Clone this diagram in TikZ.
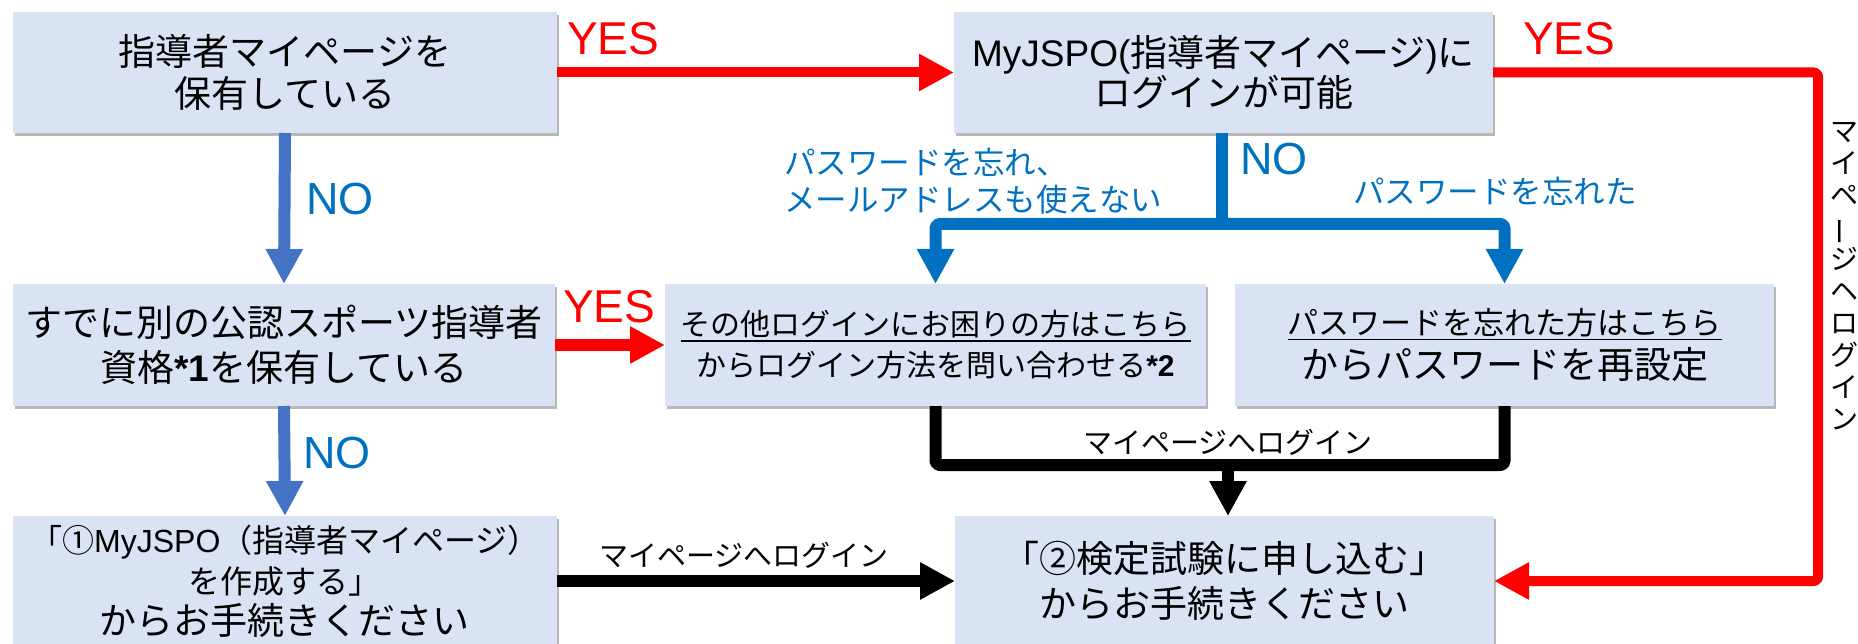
\documentclass[tikz,border=0pt]{standalone}
\usepackage{fontspec}
\setmainfont{Noto Sans CJK JP}
\newfontfamily\lat{Liberation Sans}
\usetikzlibrary{arrows.meta,shadows}
\definecolor{boxfill}{RGB}{218,227,243}
\definecolor{pured}{RGB}{255,0,0}
\definecolor{blueA}{RGB}{68,114,196}
\definecolor{blueB}{RGB}{0,112,192}
\newcommand\ulx[1]{\setbox0\hbox{#1}\rlap{\rule[-6pt]{\wd0}{1.6pt}}\box0}
\newcommand\fs[2]{\fontsize{#1}{#2}\selectfont}
\begin{document}
\begin{tikzpicture}[x=1pt,y=-1pt,
  box/.style={fill=boxfill, align=center, inner sep=0pt, outer sep=0pt,
    drop shadow={shadow xshift=2pt, shadow yshift=-3pt, opacity=0.28, fill=black}},
  arr/.style={-{Triangle[length=35pt,width=35pt]}},
  redln/.style={draw=pured, line width=10pt, line join=round},
  blueAln/.style={draw=blueA, line width=12pt},
  blueBln/.style={draw=blueB, line width=12pt, line join=round},
  blkln/.style={draw=black, line width=12pt, line join=round},
  yesl/.style={text=pured, font=\lat\fs{46}{50}, inner sep=0pt, anchor=base west},
  nol/.style={text=blueB, font=\lat\fs{45}{50}, inner sep=0pt, anchor=base west},
  lbl/.style={inner sep=0pt, font=\fs{29}{31}},
  bluel/.style={inner sep=0pt, text=blueB, font=\fs{31.5}{37}}
]
\useasboundingbox (0,0) rectangle (1858,644);

% boxes
\node[box, minimum width=544pt, minimum height=121pt, font=\fs{37}{42}] (b1) at (285,72.5)
  {指導者マイページを\\保有している};
\node[box, minimum width=539pt, minimum height=121pt, font=\fs{37}{40}] (b2) at (1223.5,72.5)
  {{\lat MyJSPO(}指導者マイページ{\lat )}に\\ログインが可能};
\node[box, minimum width=542pt, minimum height=122pt, font=\fs{37}{45}] (b3) at (284,345)
  {すでに別の公認スポーツ指導者\\資格{\lat\bfseries *1}を保有している};
\node[box, minimum width=541pt, minimum height=122pt, font=\fs{30}{41}] (b4) at (935.5,345)
  {\ulx{その他ログインにお困りの方はこちら}\\からログイン方法を問い合わせる{\lat\bfseries *2}};
\node[box, minimum width=539pt, minimum height=122pt, font=\fs{31}{44}] (b5) at (1504.5,345)
  {\ulx{パスワードを忘れた方はこちら}\\{\fs{37}{44}からパスワードを再設定}};
\node[box, minimum width=544pt, minimum height=130pt, font=\fs{32}{41}] (b6) at (285,581)
  {「①{\lat MyJSPO}（指導者マイページ）\\を作成する」\\{\fs{37}{40}からお手続きください}};
\node[box, minimum width=539pt, minimum height=130pt, font=\fs{37}{45}] (b7) at (1224.5,581)
  {「②検定試験に申し込む」\\からお手続きください};

% red connectors
\draw[redln, arr] (b1.east) -- (b2.west);
\draw[redln, line width=12pt, arr] (b3.east) -- (b4.west);
\coordinate (rc) at (1818,72.5);
\draw[redln, arr, rounded corners=4pt] (b2.east) -- (rc) |- (b7.east);

% blue left connectors
\draw[blueAln, arr] (b1.south) -- (b3.north);
\draw[blueAln, arr] (b3.south) -- (b6.north);

% blue right connectors
\coordinate (jn) at (1222,224);
\draw[blueBln] (b2.south -| jn) -- (jn);
\draw[blueBln, {Triangle[length=35pt,width=35pt]}-{Triangle[length=35pt,width=35pt]}, rounded corners=4pt]
  (b4.north) |- (jn) -| (b5.north);

% black connectors
\draw[blkln, arr] (b6.east) -- (b7.west);
\coordinate (jb) at (1228,465);
\draw[blkln, rounded corners=4pt] (b4.south) |- (jb) -| (b5.south);
\draw[blkln, arr] (jb) -- (jb |- b7.north);

% labels
\node[yesl] (y1) at (567,55) {YES};
\node[yesl] (y2) at (1523,55) {YES};
\node[yesl] (y3) at (563,323) {YES};
\node[nol] (n1) at (306,215) {NO};
\node[nol] (n2) at (1240,175) {NO};
\node[nol] (n3) at (303,468) {NO};
\node[bluel, align=left, anchor=west] (l1) at (784,181.5) {パスワードを忘れ、\\メールアドレスも使えない};
\node[bluel, anchor=west] (l2) at (1353,191) {パスワードを忘れた};
\node[lbl] (l3) at (744,555) {マイページへログイン};
\node[lbl] (l4) at (1228,442) {マイページへログイン};
\node[lbl, align=center, font=\fs{28}{32}] (l5) at (1844,276)
  {マ\\イ\\ペ\\\rotatebox[origin=c]{90}{ー}\\ジ\\ヘ\\ロ\\グ\\イ\\ン};
\end{tikzpicture}
\end{document}
